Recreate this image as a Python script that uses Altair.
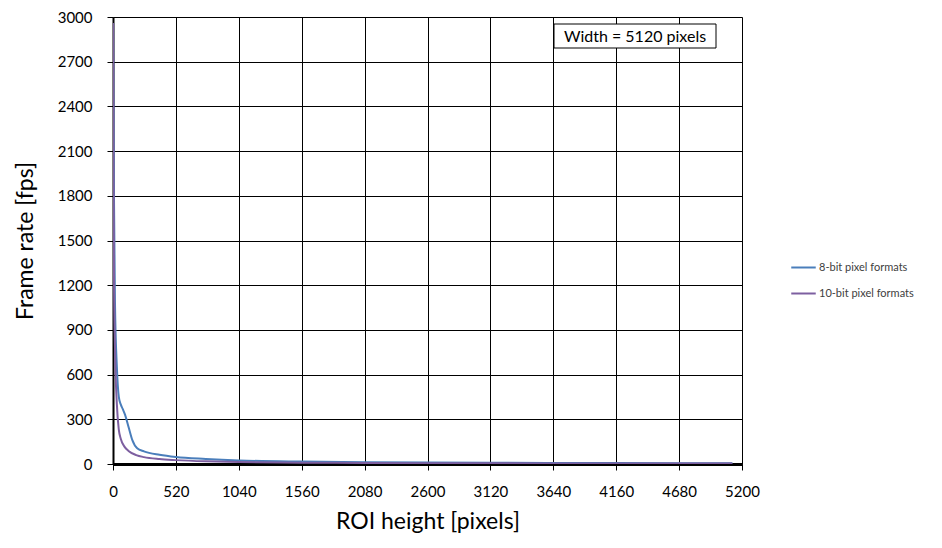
import altair as alt
import pandas as pd

heights_8 = [1, 4, 8, 16, 32, 48, 64, 80, 100, 128, 160, 200, 256, 384, 520, 768, 1040, 1560, 2080, 3120, 4160, 5120]
fps_8 = [2960, 2400, 1800, 1100, 650, 450, 400, 370, 330, 250, 160, 105, 85, 62, 47, 34, 24, 16, 12, 8, 6, 5]
heights_10 = [1, 4, 8, 16, 32, 48, 64, 96, 128, 192, 256, 384, 520, 768, 1040, 1560, 2080, 3120, 4160, 5120]
fps_10 = [2960, 2000, 1300, 800, 400, 230, 170, 115, 88, 60, 46, 33, 26, 18, 13, 9, 7, 4.5, 3.5, 3]
series = ["8-bit pixel formats", "10-bit pixel formats"]
colors = ["#4a7ebb", "#7d5fa0"]
x_ticks = list(range(0, 5201, 520))
y_ticks = list(range(0, 3001, 300))

df = pd.concat([
    pd.DataFrame({"h": heights_8, "fps": fps_8, "s": series[0]}),
    pd.DataFrame({"h": heights_10, "fps": fps_10, "s": series[1]}),
])

FONT = "Lato"

lines = alt.Chart(df).mark_line(strokeWidth=2, interpolate="monotone", clip=True).encode(
    x=alt.X("h:Q", scale=alt.Scale(domain=[0, 5200], nice=False),
            axis=alt.Axis(values=x_ticks, format="d", title="ROI height [pixels]", titleFontSize=23,
                          titleFontWeight="normal", titleColor="#000", titlePadding=11,
                          labelFontSize=15, labelColor="#000", labelPadding=14,
                          tickSize=6, tickColor="#000", domainColor="#000", domainWidth=3,
                          gridColor="#000", gridWidth=1, gridOpacity=1, labelFlush=False)),
    y=alt.Y("fps:Q", scale=alt.Scale(domain=[0, 3000], nice=False),
            axis=alt.Axis(values=y_ticks, format="d", title="Frame rate [fps]", titleFontSize=23,
                          titleFontWeight="normal", titleColor="#000", titlePadding=20,
                          labelFontSize=15, labelColor="#000", labelPadding=15,
                          tickSize=6, tickColor="#000", domainColor="#000", domainWidth=2,
                          gridColor="#000", gridWidth=1, gridOpacity=1)),
    color=alt.Color("s:N", sort=series, scale=alt.Scale(domain=series, range=colors),
                    legend=alt.Legend(title=None, orient="none", legendX=677, legendY=237,
                                      symbolType="stroke", symbolSize=600, symbolStrokeWidth=2,
                                      labelFontSize=11, labelColor="#404040", rowPadding=7,
                                      labelOffset=2, labelFont=FONT)),
)

box = alt.Chart(pd.DataFrame({"t": ["Width = 5120 pixels"]})).mark_rect(
    fill="white", stroke="#000", strokeWidth=1).encode(
    x=alt.value(441), x2=alt.value(603), y=alt.value(7), y2=alt.value(31))
txt = alt.Chart(pd.DataFrame({"t": ["Width = 5120 pixels"]})).mark_text(
    fontSize=16, font=FONT, color="#000", align="center", baseline="middle").encode(
    x=alt.value(522), y=alt.value(19.5), text="t:N")

chart = (lines + box + txt).properties(
    width=629, height=447,
    autosize=alt.AutoSizeParams(type="none"),
    padding={"left": 105, "top": 9, "right": 190, "bottom": 75},
).configure_view(stroke="#000", strokeWidth=1).configure(font=FONT)

chart.save("out.html", embed_options={"renderer": "svg", "actions": False})
